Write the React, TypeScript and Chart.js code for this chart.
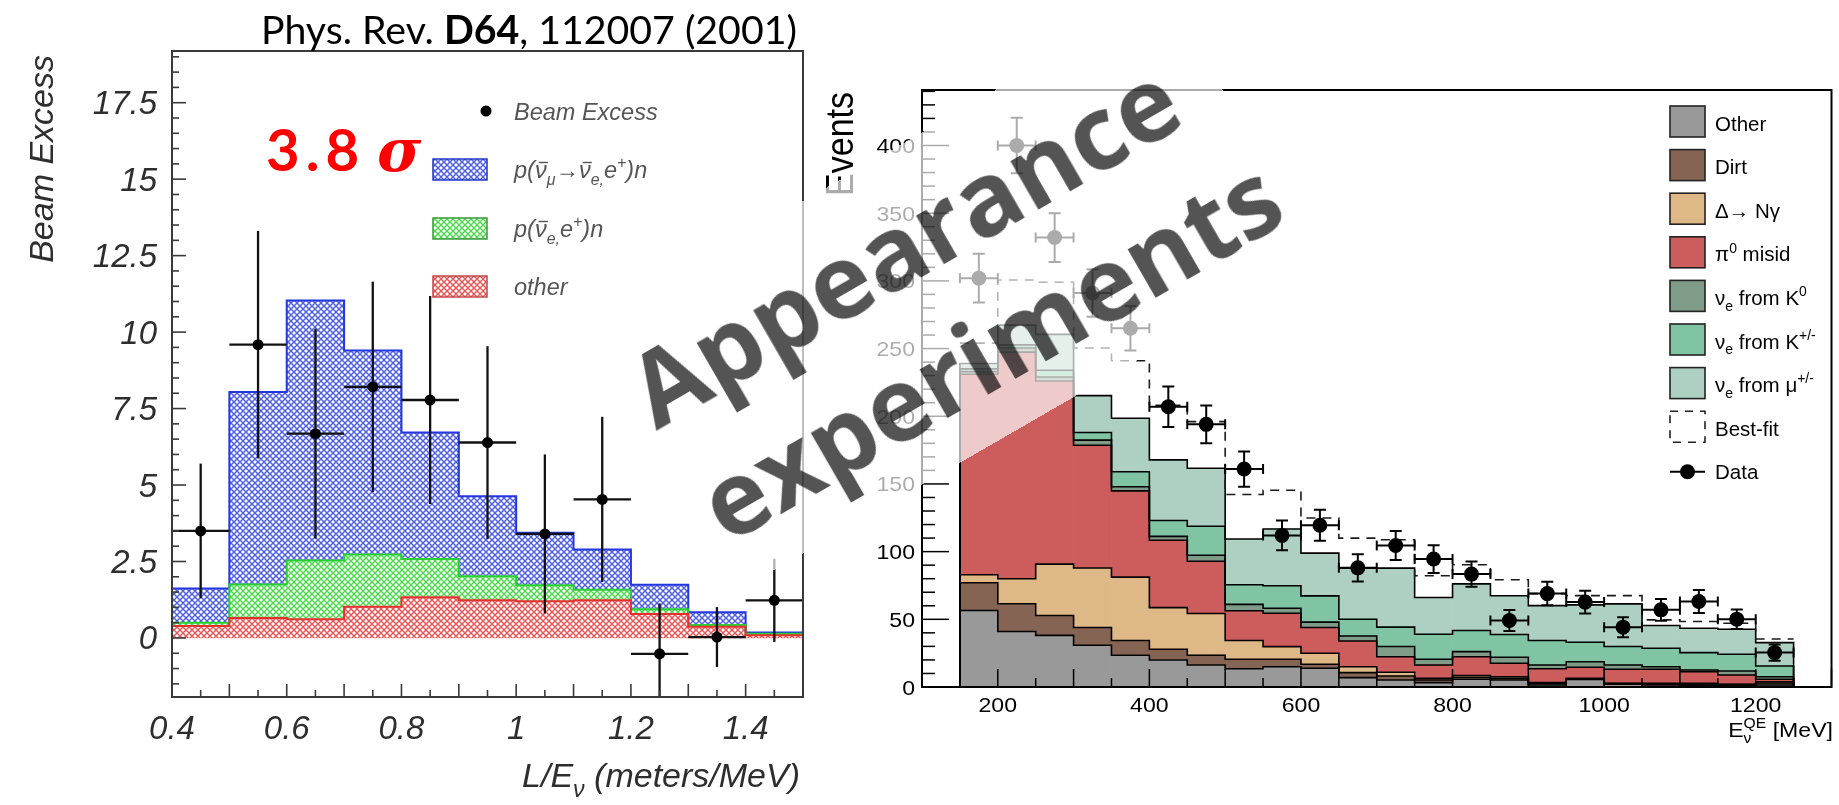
import { useEffect, useRef } from 'react';
import { Chart, registerables } from 'chart.js';

Chart.register(...registerables);

// ---------- LSND: beam excess vs L/E (left panel) ----------
const lsndBinCenters = [0.45, 0.55, 0.65, 0.75, 0.85, 0.95, 1.05, 1.15, 1.25, 1.35, 1.45];
const lsndBinHalfWidth = 0.05;
const lsndOther = [0.39, 0.65, 0.61, 1.02, 1.33, 1.23, 1.2, 1.23, 0.78, 0.37, 0.09];
const lsndNueBar = [0.11, 1.1, 1.92, 1.71, 1.25, 0.79, 0.52, 0.35, 0.16, 0.05, 0.05];
const lsndOscillation = [1.12, 6.29, 8.5, 6.67, 4.14, 2.61, 1.72, 1.31, 0.8, 0.42, 0.04];
const lsndExcess = [3.5, 9.59, 6.68, 8.21, 7.78, 6.39, 3.4, 4.53, -0.52, 0.03, 1.23];
const lsndExcessErr = [2.2, 3.72, 3.43, 3.44, 3.4, 3.15, 2.6, 2.7, 1.65, 0.98, 1.36];
const lsndXTicks = [0.4, 0.6, 0.8, 1.0, 1.2, 1.4];
const lsndXTickLabels = ['0.4', '0.6', '0.8', '1', '1.2', '1.4'];
const lsndYTicks = [0, 2.5, 5, 7.5, 10, 12.5, 15, 17.5];
const lsndYTickLabels = ['0', '2.5', '5', '7.5', '10', '12.5', '15', '17.5'];

// ---------- MiniBooNE: nu_e candidates vs E_QE (right panel) ----------
const mbBinLow = [150, 200, 250, 300, 350, 400, 450, 500, 550, 600, 650, 700, 750, 800, 850, 900, 950, 1000, 1050, 1100, 1150, 1200];
const mbBinWidth = 50;
const mbOther = [56.5, 41.0, 38.1, 30.8, 23.5, 20.0, 16.2, 13.5, 15.0, 13.8, 6.9, 5.2, 3.2, 5.7, 5.2, 1.5, 5.5, 2.0, 1.5, 1.3, 1.2, 1.5];
const mbDirt = [20.5, 20.5, 14.7, 13.2, 10.8, 7.9, 7.3, 7.0, 5.5, 3.0, 3.7, 2.9, 2.0, 1.5, 1.2, 1.2, 0.5, 0.5, 0.8, 1.0, 0.6, 1.5];
const mbDeltaNGamma = [5.9, 18.5, 38.0, 43.9, 46.9, 30.7, 30.8, 13.8, 9.3, 8.1, 4.4, 2.8, 1.2, 1.3, 1.2, 0.5, 0.4, 0.2, 0.4, 0.4, 0.2, 0.9];
const mbPi0Misid = [148.1, 167.4, 135.2, 90.7, 63.7, 49.8, 38.6, 22.0, 24.7, 19.0, 19.0, 11.5, 9.9, 13.9, 9.9, 10.3, 8.2, 10.4, 10.4, 8.6, 6.9, 1.8];
const mbNueK0 = [2.0, 3.0, 3.0, 3.8, 3.0, 2.9, 4.4, 4.7, 3.7, 4.0, 3.7, 7.5, 4.2, 3.7, 4.5, 2.8, 4.1, 3.2, 1.9, 1.3, 2.9, 1.9];
const mbNueKpm = [2.0, 2.3, 5.0, 5.6, 11.1, 11.7, 21.4, 14.5, 16.6, 19.4, 12.4, 14.3, 18.5, 15.6, 16.8, 18.0, 14.4, 13.6, 13.6, 12.8, 12.4, 7.9];
const mbNueMu = [4.0, 14.6, 26.5, 27.2, 39.5, 44.8, 42.9, 33.8, 41.9, 31.6, 37.7, 43.6, 27.1, 34.5, 28.6, 25.8, 27.6, 31.5, 16.8, 18.0, 18.5, 17.3];
const mbBestFit = [254, 300.6, 299, 250.4, 241, 208, 196, 142.2, 145.3, 124.8, 110, 108.8, 82.2, 90.3, 79.2, 69, 67.5, 67.5, 49.6, 48.4, 47.1, 35.5];
const mbData = [302, 400, 332, 291, 265, 207, 194, 161, 112, 119.5, 88, 104.5, 94.5, 83.4, 49.1, 69, 62.7, 44.2, 57, 63.2, 50.1, 25.4];
const mbDataErr = [18, 20.5, 18, 17.5, 16.5, 15, 14, 13, 11, 11.5, 10, 10.7, 10.3, 9.3, 7.7, 8.7, 8.4, 7.4, 8, 8.5, 7.2, 6];
const mbXTicks = [200, 400, 600, 800, 1000, 1200];
const mbXTickLabels = ['200', '400', '600', '800', '1000', '1200'];
const mbYTicks = [0, 50, 100, 150, 200, 250, 300, 350, 400];
const mbYTickLabels = ['0', '50', '100', '150', '200', '250', '300', '350', '400'];
const mbLayerNames = ['Other', 'Dirt', 'Delta', 'Pi0', 'K0', 'Kpm', 'Mu'];
const mbLayerColors = ['#999999', '#866454', '#deb887', '#cd5c5c', '#7e9c88', '#80c4a4', '#aed0c3'];

const HELV = '"Liberation Sans", Arial, sans-serif';

type Run = { t: string; pos?: 'sub' | 'sup'; bar?: boolean; under?: string };

function cumulate(layers: number[][]) {
  const out: number[][] = [];
  layers.forEach((l, k) => out.push(l.map((v, i) => v + (k ? out[k - 1][i] : 0))));
  return out;
}

function stepPoints(lows: number[], width: number, tops: number[], closed: boolean) {
  const pts: { x: number; y: number }[] = [];
  if (closed) pts.push({ x: lows[0], y: 0 });
  lows.forEach((x, i) => pts.push({ x, y: tops[i] }));
  pts.push({ x: lows[lows.length - 1] + width, y: tops[tops.length - 1] });
  if (closed) pts.push({ x: lows[lows.length - 1] + width, y: 0 });
  return pts;
}

function seg(ctx: CanvasRenderingContext2D, x1: number, y1: number, x2: number, y2: number) {
  ctx.beginPath();
  ctx.moveTo(x1, y1);
  ctx.lineTo(x2, y2);
  ctx.stroke();
}

// Cross-hatch fill tile: diagonal lines leaving small white diamonds
function hatch(line: string) {
  const s = 6;
  const c = document.createElement('canvas');
  c.width = s;
  c.height = s;
  const g = c.getContext('2d')!;
  g.fillStyle = '#ffffff';
  g.fillRect(0, 0, s, s);
  g.strokeStyle = line;
  g.lineWidth = 1.5;
  for (const k of [-s, 0, s]) {
    seg(g, k - 1, -1, k + s + 1, s + 1);
    seg(g, k - 1, s + 1, k + s + 1, -1);
  }
  return g.createPattern(c, 'repeat')!;
}

// Draws rich text (sub/superscripts, overbars) with optional horizontal stretch; returns the width.
function drawRuns(ctx: CanvasRenderingContext2D, runs: Run[], x: number, y: number, size: number,
  style: string, color: string, sx = 1, dry = false) {
  ctx.save();
  ctx.translate(x, y);
  ctx.scale(sx, 1);
  ctx.textAlign = 'left';
  ctx.textBaseline = 'alphabetic';
  ctx.fillStyle = color;
  ctx.strokeStyle = color;
  let cx = 0;
  for (const r of runs) {
    const fs = r.pos ? size * 0.68 : size;
    ctx.font = `${style} ${fs}px ${HELV}`;
    const dy = r.pos === 'sub' ? size * 0.28 : r.pos === 'sup' ? -size * 0.42 : 0;
    let w = ctx.measureText(r.t).width;
    if (!dry) ctx.fillText(r.t, cx, dy);
    if (r.bar && !dry) {
      ctx.lineWidth = size * 0.06;
      const slant = style.includes('italic') ? size * 0.1 : 0;
      seg(ctx, cx + w * 0.12 + slant, -size * 0.66, cx + w * 0.9 + slant, -size * 0.66);
    }
    if (r.under) {
      if (!dry) ctx.fillText(r.under, cx, size * 0.3);
      w = Math.max(w, ctx.measureText(r.under).width);
    }
    cx += w;
  }
  ctx.restore();
  return cx * sx;
}

function drawText(ctx: CanvasRenderingContext2D, text: string, x: number, y: number,
  align: 'left' | 'right' | 'center', font: string, color: string, sx = 1) {
  ctx.save();
  ctx.font = font;
  const w = ctx.measureText(text).width * sx;
  const start = align === 'right' ? x - w : align === 'center' ? x - w / 2 : x;
  ctx.translate(start, y);
  ctx.scale(sx, 1);
  ctx.textAlign = 'left';
  ctx.textBaseline = 'alphabetic';
  ctx.fillStyle = color;
  ctx.fillText(text, 0, 0);
  ctx.restore();
}

function buildLsnd(canvas: HTMLCanvasElement) {
  const blue = hatch('#5262e4');
  const green = hatch('#52da52');
  const red = hatch('#eb5a5a');
  const tops = cumulate([lsndOther, lsndNueBar, lsndOscillation]);
  const edges = lsndBinCenters.map((c) => c - lsndBinHalfWidth);
  const fills = [red, green, blue];
  const edgeColors = ['#e63030', '#28d032', '#2336e0'];

  const barSets = tops.map((top, k) => ({
    type: 'bar' as const,
    data: lsndBinCenters.map((x, i) => ({ x, y: [k ? tops[k - 1][i] : 0, top[i]] })),
    backgroundColor: fills[k],
    borderWidth: 0,
    barPercentage: 1,
    categoryPercentage: 1,
    grouped: false,
    order: 3,
  }));
  const outlineSets = tops.map((top, k) => ({
    type: 'line' as const,
    data: stepPoints(edges, 2 * lsndBinHalfWidth, top, false),
    stepped: true,
    borderColor: edgeColors[k],
    borderWidth: 2,
    pointRadius: 0,
    fill: false,
    order: 2,
  }));

  const decor = {
    id: 'lsndDecor',
    beforeDatasetDraw(chart: any, args: any) {
      if (args.index !== 0) return;
      const { ctx, chartArea: a } = chart;
      const xs = chart.scales.x, ys = chart.scales.y;
      ctx.save();
      ctx.beginPath();
      ctx.rect(a.left, a.top, a.right - a.left, a.bottom - a.top);
      ctx.clip();
      ctx.strokeStyle = '#111';
      ctx.lineWidth = 2.3;
      lsndBinCenters.forEach((c, i) => {
        const px = xs.getPixelForValue(c);
        const py = ys.getPixelForValue(lsndExcess[i]);
        seg(ctx, px, ys.getPixelForValue(lsndExcess[i] + lsndExcessErr[i]), px, ys.getPixelForValue(lsndExcess[i] - lsndExcessErr[i]));
        seg(ctx, xs.getPixelForValue(c - lsndBinHalfWidth), py, xs.getPixelForValue(c + lsndBinHalfWidth), py);
      });
      ctx.restore();
    },
    afterDraw(chart: any) {
      const { ctx, chartArea: a } = chart;
      const xs = chart.scales.x, ys = chart.scales.y;
      ctx.save();
      ctx.strokeStyle = '#3a3a3a';
      ctx.lineWidth = 2;
      ctx.strokeRect(a.left, a.top, a.right - a.left, a.bottom - a.top);
      ctx.lineWidth = 1.6;
      for (let k = 0; k <= 22; k++) {
        const p = xs.getPixelForValue(0.4 + 0.05 * k);
        seg(ctx, p, a.bottom, p, a.bottom - (k % 2 === 0 ? 13 : 7));
      }
      for (let k = -3; k <= 38; k++) {
        const p = ys.getPixelForValue(0.5 * k);
        seg(ctx, a.left, p, a.left + (k % 5 === 0 ? 14 : 7), p);
      }
      const tickFont = `italic 33px ${HELV}`;
      lsndYTicks.forEach((v, i) => drawText(ctx, lsndYTickLabels[i], 157, ys.getPixelForValue(v) + 11.5, 'right', tickFont, '#2e2e2e'));
      lsndXTicks.forEach((v, i) => drawText(ctx, lsndXTickLabels[i], xs.getPixelForValue(v), 739, 'center', tickFont, '#2e2e2e'));

      // axis titles
      ctx.save();
      ctx.translate(53, 55);
      ctx.rotate(-Math.PI / 2);
      ctx.font = `italic 34px ${HELV}`;
      ctx.fillStyle = '#2e2e2e';
      ctx.textAlign = 'right';
      ctx.fillText('Beam Excess', 0, 0);
      ctx.restore();
      const xTitle: Run[] = [{ t: 'L/E' }, { t: 'ν', pos: 'sub' }, { t: ' (meters/MeV)' }];
      const xw = drawRuns(ctx, xTitle, 0, 0, 34, 'italic', '#2e2e2e', 1, true);
      drawRuns(ctx, xTitle, 800 - xw, 787, 34, 'italic', '#2e2e2e');

      // legend
      ctx.fillStyle = '#000';
      ctx.beginPath();
      ctx.arc(486, 111, 5.5, 0, Math.PI * 2);
      ctx.fill();
      drawText(ctx, 'Beam Excess', 514, 119.5, 'left', `italic 23.5px ${HELV}`, '#555');
      const legendRows: [CanvasPattern, string, number, Run[]][] = [
        [blue, '#2336c8', 159, [{ t: 'p(' }, { t: 'ν', bar: true }, { t: 'μ', pos: 'sub' }, { t: '→' }, { t: 'ν', bar: true }, { t: 'e,', pos: 'sub' }, { t: 'e' }, { t: '+', pos: 'sup' }, { t: ')n' }]],
        [green, '#3a9a3a', 218, [{ t: 'p(' }, { t: 'ν', bar: true }, { t: 'e,', pos: 'sub' }, { t: 'e' }, { t: '+', pos: 'sup' }, { t: ')n' }]],
        [red, '#c04848', 276, [{ t: 'other' }]],
      ];
      legendRows.forEach(([pat, edge, top, runs]) => {
        ctx.fillStyle = pat;
        ctx.fillRect(433, top, 54, 21);
        ctx.strokeStyle = edge;
        ctx.lineWidth = 1.5;
        ctx.strokeRect(433, top, 54, 21);
        drawRuns(ctx, runs, 514, top + 19, 23.5, 'italic', '#555');
      });

      // reference line above the panel
      const parts: [string, string][] = [['Phys. Rev. ', '400'], ['D64', '700'], [', 112007 (2001)', '400']];
      let w40 = 0;
      parts.forEach(([t, wt]) => { ctx.font = `${wt} 40px Lato`; w40 += ctx.measureText(t).width; });
      const fs = 40 * 536 / w40;
      let tx = 261;
      ctx.fillStyle = '#000';
      ctx.textAlign = 'left';
      parts.forEach(([t, wt]) => {
        ctx.font = `${wt} ${fs}px Lato`;
        ctx.fillText(t, tx, 44);
        tx += ctx.measureText(t).width;
      });

      // significance
      ctx.fillStyle = '#ff0000';
      ctx.font = 'bold 58px Lato';
      (ctx as any).letterSpacing = '6px';
      ctx.fillText('3.8', 266, 171);
      (ctx as any).letterSpacing = '0px';
      ctx.font = 'italic bold 60px "DejaVu Serif"';
      ctx.fillText('σ', 377, 171);
      ctx.restore();
    },
  };

  return new Chart(canvas, {
    type: 'bar',
    data: {
      datasets: [
        {
          type: 'scatter',
          data: lsndBinCenters.map((x, i) => ({ x, y: lsndExcess[i] })),
          pointRadius: 5.5,
          pointHoverRadius: 5.5,
          pointBackgroundColor: '#000',
          pointBorderWidth: 0,
          order: 0,
        } as any,
        ...outlineSets,
        ...barSets,
      ],
    },
    options: {
      animation: false,
      responsive: false,
      devicePixelRatio: 1,
      layout: { padding: { left: 172, top: 51, right: 9, bottom: 108 } },
      plugins: { legend: { display: false }, tooltip: { enabled: false } },
      scales: {
        x: { type: 'linear', min: 0.4, max: 1.5, display: false, offset: false },
        y: { min: -1.93, max: 19.19, display: false },
      },
    } as any,
    plugins: [decor],
  });
}

function buildMiniBooNE(canvas: HTMLCanvasElement) {
  const layers = [mbOther, mbDirt, mbDeltaNGamma, mbPi0Misid, mbNueK0, mbNueKpm, mbNueMu];
  const tops = cumulate(layers);
  const centers = mbBinLow.map((x) => x + mbBinWidth / 2);

  const barSets = tops.map((top, k) => ({
    type: 'bar' as const,
    label: mbLayerNames[k],
    data: centers.map((x, i) => ({ x, y: [k ? tops[k - 1][i] : 0, top[i]] })),
    backgroundColor: mbLayerColors[k],
    borderWidth: 0,
    barPercentage: 1,
    categoryPercentage: 1,
    grouped: false,
    order: 3,
  }));
  const outlineSets = tops.map((top) => ({
    type: 'line' as const,
    data: stepPoints(mbBinLow, mbBinWidth, top, true),
    stepped: true,
    borderColor: '#000',
    borderWidth: 1.6,
    pointRadius: 0,
    fill: false,
    order: 2,
  }));
  const bestFitSet = {
    type: 'line' as const,
    data: stepPoints(mbBinLow, mbBinWidth, mbBestFit, false),
    stepped: true,
    borderColor: '#1a1a1a',
    borderWidth: 1.6,
    borderDash: [9, 7],
    pointRadius: 0,
    fill: false,
    order: 1,
  };

  const SX = 1.1;
  const decor = {
    id: 'mbDecor',
    beforeDatasetDraw(chart: any, args: any) {
      if (args.index !== 0) return;
      const { ctx, chartArea: a } = chart;
      const xs = chart.scales.x, ys = chart.scales.y;
      ctx.save();
      ctx.beginPath();
      ctx.rect(a.left, a.top, a.right - a.left, a.bottom - a.top);
      ctx.clip();
      ctx.strokeStyle = '#000';
      ctx.lineWidth = 2;
      centers.forEach((c, i) => {
        const px = xs.getPixelForValue(c);
        const py = ys.getPixelForValue(mbData[i]);
        const yt = ys.getPixelForValue(mbData[i] + mbDataErr[i]);
        const yb = ys.getPixelForValue(mbData[i] - mbDataErr[i]);
        const xl = xs.getPixelForValue(c - mbBinWidth / 2);
        const xr = xs.getPixelForValue(c + mbBinWidth / 2);
        seg(ctx, px, yt, px, yb);
        seg(ctx, px - 6, yt, px + 6, yt);
        seg(ctx, px - 6, yb, px + 6, yb);
        seg(ctx, xl, py, xr, py);
        seg(ctx, xl, py - 5, xl, py + 5);
        seg(ctx, xr, py - 5, xr, py + 5);
      });
      ctx.restore();
    },
    afterDraw(chart: any) {
      const { ctx, chartArea: a } = chart;
      const xs = chart.scales.x, ys = chart.scales.y;
      ctx.save();
      ctx.strokeStyle = '#000';
      ctx.lineWidth = 2;
      ctx.strokeRect(a.left, a.top, a.right - a.left, a.bottom - a.top);
      ctx.lineWidth = 1.5;
      for (let v = 100; v <= 1300; v += 50) {
        const p = xs.getPixelForValue(v);
        seg(ctx, p, a.bottom, p, a.bottom - (v % 100 === 0 ? 18 : 9));
      }
      for (let v = 0; v <= 440; v += 10) {
        const p = ys.getPixelForValue(v);
        seg(ctx, a.left, p, a.left + (v % 50 === 0 ? 27 : 13), p);
      }
      const tickFont = `21px ${HELV}`;
      mbYTicks.forEach((v, i) => drawText(ctx, mbYTickLabels[i], 103, ys.getPixelForValue(v) + 7.5, 'right', tickFont, '#000', SX));
      mbXTicks.forEach((v, i) => drawText(ctx, mbXTickLabels[i], xs.getPixelForValue(v), 712, 'center', tickFont, '#000', SX));

      // axis titles
      const xTitle: Run[] = [{ t: 'E' }, { t: 'QE', pos: 'sup', under: 'ν' }, { t: ' [MeV]' }];
      const xw = drawRuns(ctx, xTitle, 0, 0, 21, '', '#000', SX, true);
      drawRuns(ctx, xTitle, 1021 - xw, 737, 21, '', '#000', SX);
      ctx.save();
      ctx.translate(41, 92);
      ctx.rotate(-Math.PI / 2);
      ctx.scale(1, 1.15);
      ctx.font = `34px ${HELV}`;
      ctx.fillStyle = '#000';
      ctx.textAlign = 'right';
      ctx.fillText('Events', 0, 0);
      ctx.restore();

      // legend
      const rows: Run[][] = [
        [{ t: 'Other' }],
        [{ t: 'Dirt' }],
        [{ t: 'Δ→ Nγ' }],
        [{ t: 'π' }, { t: '0', pos: 'sup' }, { t: ' misid' }],
        [{ t: 'ν' }, { t: 'e', pos: 'sub' }, { t: ' from K' }, { t: '0', pos: 'sup' }],
        [{ t: 'ν' }, { t: 'e', pos: 'sub' }, { t: ' from K' }, { t: '+/-', pos: 'sup' }],
        [{ t: 'ν' }, { t: 'e', pos: 'sub' }, { t: ' from μ' }, { t: '+/-', pos: 'sup' }],
        [{ t: 'Best-fit' }],
        [{ t: 'Data' }],
      ];
      rows.forEach((runs, r) => {
        const cy = 123 + 43.6 * r;
        if (r < 7) {
          ctx.fillStyle = mbLayerColors[r];
          ctx.fillRect(858, cy - 17, 35, 31);
          ctx.strokeStyle = '#222';
          ctx.lineWidth = 1.6;
          ctx.strokeRect(858, cy - 17, 35, 31);
        } else if (r === 7) {
          ctx.strokeStyle = '#222';
          ctx.lineWidth = 1.6;
          ctx.setLineDash([8, 7]);
          ctx.strokeRect(858, cy - 17, 35, 31);
          ctx.setLineDash([]);
        } else {
          ctx.strokeStyle = '#000';
          ctx.lineWidth = 2;
          seg(ctx, 858, cy, 893, cy);
          ctx.fillStyle = '#000';
          ctx.beginPath();
          ctx.arc(875.5, cy, 7.5, 0, Math.PI * 2);
          ctx.fill();
        }
        drawRuns(ctx, runs, 903, cy + 7.5, 20.5, '', '#000');
      });
      ctx.restore();
    },
  };

  return new Chart(canvas, {
    type: 'bar',
    data: {
      datasets: [
        {
          type: 'scatter',
          label: 'Data',
          data: centers.map((x, i) => ({ x, y: mbData[i] })),
          pointRadius: 7.5,
          pointHoverRadius: 7.5,
          pointBackgroundColor: '#000',
          pointBorderWidth: 0,
          order: 0,
        } as any,
        bestFitSet,
        ...outlineSets,
        ...barSets,
      ],
    },
    options: {
      animation: false,
      responsive: false,
      devicePixelRatio: 1,
      layout: { padding: { left: 110, top: 90, right: 5, bottom: 118 } },
      plugins: { legend: { display: false }, tooltip: { enabled: false } },
      scales: {
        x: { type: 'linear', min: 100, max: 1300, display: false, offset: false },
        y: { min: 0, max: 441, display: false },
      },
    } as any,
    plugins: [decor],
  });
}

export default function App() {
  const leftRef = useRef<HTMLCanvasElement>(null);
  const rightRef = useRef<HTMLCanvasElement>(null);

  useEffect(() => {
    const left = buildLsnd(leftRef.current!);
    const right = buildMiniBooNE(rightRef.current!);
    return () => {
      left.destroy();
      right.destroy();
    };
  }, []);

  return (
    <div style={{ position: 'fixed', left: 0, top: 0, width: 1839, height: 805, overflow: 'hidden', background: '#fff' }}>
      <canvas ref={leftRef} width={812} height={805} style={{ position: 'absolute', left: 0, top: 0 }} />
      <canvas ref={rightRef} width={1027} height={805} style={{ position: 'absolute', left: 812, top: 0 }} />
      <div
        style={{
          position: 'absolute',
          left: 939 - 349.5,
          top: 298 - 152.5,
          width: 699,
          height: 305,
          transform: 'rotate(-30deg)',
          background: 'rgba(255,255,255,0.67)',
          display: 'flex',
          flexDirection: 'column',
          alignItems: 'center',
          justifyContent: 'center',
          fontFamily: '"Open Sans", sans-serif',
          fontWeight: 700,
          fontSize: 103,
          lineHeight: '135px',
          color: 'rgba(0,0,0,0.67)',
          whiteSpace: 'nowrap',
          pointerEvents: 'none',
        }}
      >
        <div style={{ marginLeft: -8 }}>Appearance</div>
        <div style={{ marginLeft: 36 }}>experiments</div>
      </div>
    </div>
  );
}
